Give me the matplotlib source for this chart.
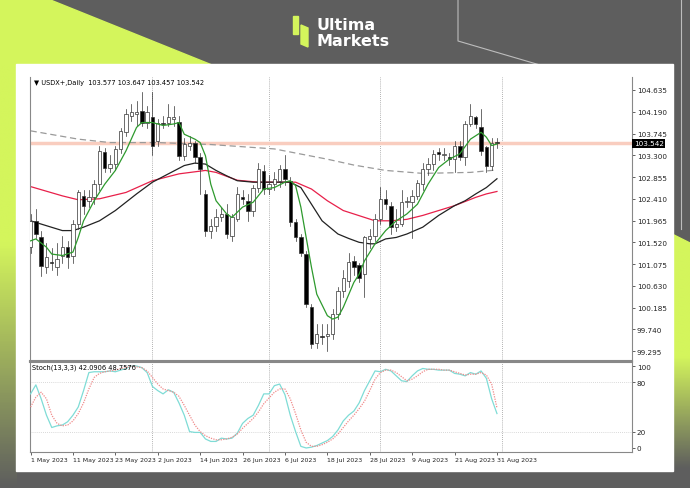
import matplotlib
matplotlib.use("Agg")
import matplotlib.pyplot as plt
import numpy as np
from matplotlib.patches import Rectangle, Polygon
from matplotlib.colors import LinearSegmentedColormap

# ---------------- data ----------------
opens = [101.42,101.96,101.62,101.02,101.12,101.02,101.25,101.42,101.24,101.89,
         102.47,102.37,102.44,102.71,103.36,103.05,103.12,103.43,103.77,104.11,
         104.14,104.21,103.97,104.08,103.60,103.96,103.97,104.04,103.99,103.29,
         103.50,103.56,103.26,102.51,101.76,101.86,102.03,102.10,101.65,101.99,
         102.44,102.37,102.17,102.64,102.98,102.61,102.71,102.78,103.02,102.78,
         101.93,101.62,101.28,100.19,99.47,99.61,99.61,99.64,100.05,100.53,
         100.73,101.14,101.06,100.87,101.58,101.65,101.99,102.40,102.27,101.83,
         101.90,102.34,102.34,102.47,102.71,103.02,103.12,103.36,103.30,103.27,
         103.22,103.50,103.26,103.94,104.09,103.87,103.46,103.09,103.577]
highs = [102.10,102.20,101.75,101.50,101.40,101.50,101.65,101.55,101.98,102.60,
         102.60,102.60,102.80,103.50,103.45,103.30,103.50,103.85,104.25,104.35,
         104.40,104.60,104.30,104.60,104.05,104.10,104.35,104.30,104.10,103.65,
         103.70,103.60,103.35,102.60,102.00,102.20,102.25,102.30,102.10,102.65,
         102.60,102.50,102.70,103.15,103.10,102.90,102.95,103.10,103.30,102.85,
         102.00,101.70,101.35,100.25,99.85,99.85,99.85,100.15,100.60,100.95,
         101.30,101.25,101.10,101.65,101.80,102.10,102.65,102.60,102.35,102.20,
         102.60,102.45,102.60,102.80,103.15,103.25,103.40,103.45,103.45,103.35,
         103.60,103.60,104.00,104.35,104.10,104.25,103.50,103.65,103.647]
lows = [101.30,101.60,100.84,100.90,100.95,100.85,101.10,101.00,101.10,101.80,
        102.10,102.25,102.30,102.60,102.95,102.95,103.00,103.35,103.70,104.00,
        103.90,103.90,103.85,103.30,103.50,103.85,103.90,103.90,103.20,103.20,
        103.40,103.15,102.50,101.65,101.60,101.75,101.95,101.60,101.55,101.95,
        102.30,101.95,102.05,102.55,102.50,102.50,102.60,102.65,102.70,101.85,
        101.55,101.25,100.20,99.35,99.35,99.45,99.30,99.55,99.95,100.40,
        100.60,100.85,100.70,100.40,101.40,101.55,101.90,102.20,101.70,101.75,
        101.85,102.25,101.60,102.40,102.60,102.90,103.00,103.20,103.20,103.10,
        102.95,103.20,103.10,103.90,103.85,103.30,102.95,103.00,103.457]
closes = [101.96,101.70,101.04,101.21,101.10,101.18,101.42,101.23,101.89,102.54,
          102.27,102.44,102.71,103.39,103.05,103.12,103.43,103.80,104.14,104.18,
          104.18,103.97,104.18,103.48,103.97,103.93,104.08,104.08,103.29,103.53,
          103.56,103.26,103.02,101.76,101.86,102.03,102.10,101.69,102.03,102.51,
          102.41,102.17,102.64,103.02,102.61,102.71,102.81,103.02,102.81,101.93,
          101.62,101.31,100.26,99.45,99.64,99.58,99.64,100.05,100.53,100.80,
          101.11,101.02,100.80,101.62,101.65,101.99,102.41,102.30,101.83,101.90,
          102.34,102.36,102.47,102.73,103.02,103.12,103.33,103.33,103.33,103.22,
          103.50,103.27,103.94,104.11,103.93,103.39,103.09,103.56,103.542]

green_x = [0,1,3,4,6,8,9,10,12,14,16,18,20,21,23,25,27,28,29,31,32,33,34,35,37,38,40,42,44,46,
           48,49,50,51,52,53,54,56,57,58,59,61,62,63,65,67,69,71,73,75,77,79,81,83,85,86,87,88]
green_y = [101.55,101.59,101.42,101.28,101.25,101.32,101.62,101.96,102.37,102.71,102.99,103.39,
           103.87,103.97,103.97,103.91,103.94,103.97,103.73,103.63,103.56,103.29,102.71,102.37,
           102.10,102.03,102.24,102.34,102.61,102.64,102.75,102.78,102.68,102.24,101.62,101.01,
           100.46,100.02,99.95,99.99,100.19,100.70,100.87,101.14,101.49,101.76,101.96,102.10,
           102.30,102.71,103.05,103.22,103.33,103.63,103.77,103.67,103.50,103.53]
black_x = [0,3,6,8,10,13,16,20,23,26,29,31,33,35,37,39,42,46,49,51,53,55,58,60,62,64,65,67,69,71,74,77,80,82,84,86,88]
black_y = [101.96,101.86,101.76,101.76,101.83,101.96,102.17,102.51,102.75,102.92,103.09,103.14,
           103.12,102.99,102.88,102.78,102.75,102.75,102.75,102.64,102.30,101.96,101.69,101.60,
           101.52,101.49,101.49,101.59,101.62,101.69,101.83,102.07,102.27,102.37,102.51,102.64,102.82]
red_x = [0,6,9,13,18,23,28,33,35,39,43,47,50,53,56,59,61,63,65,68,71,74,77,80,84,86,88]
red_y = [102.66,102.47,102.39,102.41,102.54,102.78,102.92,102.99,102.95,102.79,102.75,102.75,
         102.75,102.61,102.37,102.17,102.10,102.03,101.96,101.96,101.99,102.07,102.17,102.27,
         102.44,102.51,102.56]
grey_x = [0,9,15,24,34,46,56,61,67,74,83,88]
grey_y = [103.80,103.63,103.56,103.56,103.52,103.43,103.22,103.10,102.99,102.93,102.95,103.00]

stoch_k = [66,77,60,40,25,27,28,32,40,50,70,92,93,93,93,94,93,95,97,100,100,98,92,75,70,66,71,68,55,40,
           20,19,19,11,8,8,12,11,12,18,30,36,40,52,66,66,76,78,65,40,20,2,0,1,3,6,9,14,22,33,
           40,45,55,70,82,94,93,96,94,88,82,81,88,94,97,96,96,95,95,95,91,90,88,92,90,94,85,60,42]
stoch_d = [50,62,68,60,40,30,27,28,33,42,55,72,86,91,93,94,95,97,98,100,99,98,94,86,78,72,70,68,63,52,
           40,28,20,15,12,10,10,11,13,17,24,30,36,44,54,61,68,72,72,60,42,22,7,2,2,4,7,11,17,25,
           33,40,48,57,70,84,92,95,95,92,87,82,84,88,93,96,96,96,95,95,93,91,89,90,90,92,89,78,49]

date_idx = [0,8,16,24,32,40,48,56,64,72,80,88]
date_labels = ["1 May 2023","11 May 2023","23 May 2023","2 Jun 2023","14 Jun 2023","26 Jun 2023",
               "6 Jul 2023","18 Jul 2023","28 Jul 2023","9 Aug 2023","21 Aug 2023","31 Aug 2023"]
month_sep = [23,45,66,89]
price_ticks = [104.635,104.190,103.745,103.300,102.855,102.410,101.965,101.520,101.075,100.630,100.185,99.740,99.295]
last_price = 103.542

# ---------------- figure ----------------
W, H = 690, 489
fig = plt.figure(figsize=(W/100, H/100), dpi=100)
GRAY = "#5e5e5e"
LIME = "#d4f55c"

bg = fig.add_axes([0, 0, 1, 1])
bg.set_xlim(0, W); bg.set_ylim(H, 0); bg.axis("off")
bg.add_patch(Rectangle((0, 0), W, H, color=GRAY, zorder=0))
cm = LinearSegmentedColormap.from_list("g", [LIME, LIME, GRAY])
bg.imshow(np.linspace(0, 1, 200).reshape(-1, 1), extent=(0, 17, H, 0), cmap=cm, aspect="auto", zorder=1)
bg.add_patch(Polygon([(0, 0), (48, 0), (212, 66), (0, 66)], color=LIME, zorder=1))
bg.imshow(np.linspace(0, 1, 200).reshape(-1, 1), extent=(672, W, 470, 245), cmap=cm, aspect="auto", zorder=1)
bg.add_patch(Polygon([(672, 235), (W, 244), (W, 250), (672, 250)], color=LIME, zorder=1))
bg.plot([458, 458, 540], [0, 42, 66], color="#bdbdbd", lw=0.8, zorder=1)
bg.plot([681, 681], [0, 230], color="#bdbdbd", lw=0.8, zorder=1)
bg.add_patch(Rectangle((16, 65), 657, 407, color="white", zorder=2))
# logo
bg.add_patch(Rectangle((293, 17), 5, 18, color=LIME, zorder=3))
bg.add_patch(Polygon([(301, 26), (308, 29), (308, 48), (301, 45)], color=LIME, zorder=3))
bg.text(317, 25, "Ultima", color="white", fontsize=11.5, fontweight="bold", va="center", ha="left", zorder=3)
bg.text(317, 42, "Markets", color="white", fontsize=11.5, fontweight="bold", va="center", ha="left", zorder=3)

def px_axes(x0, y0, x1, y1):
    return fig.add_axes([x0/W, 1 - y1/H, (x1-x0)/W, (y1-y0)/H])

bar_px = 5.3
xl = (-0.2, (632 - 29.5)/bar_px - 0.2)

ax = px_axes(29.5, 78, 632, 362)
ax.set_facecolor("white")
ax.set_xlim(*xl)
ax.set_ylim(104.635 - (362-91)/48.9, 104.635 + 13/48.9)
ax.spines["top"].set_visible(False)
for s in ["left", "right", "bottom"]:
    ax.spines[s].set_color("#888888"); ax.spines[s].set_linewidth(0.8)
ax.spines["bottom"].set_linewidth(1.5)
ax.set_xticks([])
ax.yaxis.tick_right()
ax.set_yticks(price_ticks)
ax.set_yticklabels([f"{p:.3f}" for p in price_ticks], fontsize=5.2)
ax.tick_params(axis="y", length=2, width=0.5, pad=1.5, colors="#222222")

for m in month_sep:
    ax.axvline(m, color="#999999", lw=0.6, ls=(0, (1, 1.5)), zorder=1)
ax.axhline(last_price, color="#f9cdbf", lw=2.5, zorder=1)

ax.plot(grey_x, grey_y, color="#9a9a9a", lw=0.9, ls=(0, (5, 3)), zorder=2)
ax.plot(red_x, red_y, color="#e8204a", lw=0.9, zorder=2)
ax.plot(black_x, black_y, color="#222222", lw=0.9, zorder=2)

for i, (o, h, l, c) in enumerate(zip(opens, highs, lows, closes)):
    ax.plot([i, i], [l, h], color="#333333", lw=0.5, zorder=3)
    lo, hi = min(o, c), max(o, c)
    if hi - lo < 0.015:
        hi = lo + 0.015
    fc = "white" if c >= o else "black"
    ax.add_patch(Rectangle((i - 0.32, lo), 0.64, hi - lo, facecolor=fc, edgecolor="#333333", lw=0.5, zorder=4))
ax.plot(green_x, green_y, color="#2e9a2e", lw=0.9, zorder=5)

ax.text(0.6, 104.80, "\u25bc USDX+,Daily  103.577 103.647 103.457 103.542", fontsize=4.8, va="center", ha="left")
ylo, yhi = ax.get_ylim()
ax.text(1.003, (last_price - ylo) / (yhi - ylo), "103.542",
        transform=ax.transAxes, fontsize=5.2, color="white", va="center", ha="left",
        bbox=dict(boxstyle="square,pad=0.2", fc="black", ec="none"))

ax2 = px_axes(29.5, 363, 632, 453)
ax2.set_xlim(*xl)
ax2.set_ylim(-4.9, 104.9)
for s in ax2.spines.values():
    s.set_color("#888888"); s.set_linewidth(0.8)
ax2.spines["top"].set_linewidth(1.5)
ax2.yaxis.tick_right()
ax2.set_yticks([0, 20, 80, 100])
ax2.set_yticklabels(["0", "20", "80", "100"], fontsize=5.2)
ax2.tick_params(axis="y", length=2, width=0.5, pad=1.5, colors="#222222")
for m in month_sep:
    ax2.axvline(m, color="#999999", lw=0.6, ls=(0, (1, 1.5)), zorder=1)
for lv in [20, 80]:
    ax2.axhline(lv, color="#cccccc", lw=0.6, ls=(0, (1, 1.5)), zorder=1)
xs = np.arange(len(stoch_k))
ax2.plot(xs, stoch_k, color="#7fdcd6", lw=0.9, zorder=3)
ax2.plot(xs, stoch_d, color="#f08a8a", lw=0.9, ls=(0, (1, 1)), zorder=3)
ax2.text(0.3, 99, "Stoch(13,3,3) 42.0906 48.7576", fontsize=4.8, va="center", ha="left")
ax2.set_xticks(date_idx)
ax2.set_xticklabels(date_labels, fontsize=4.5, ha="left")
ax2.tick_params(axis="x", length=2, width=0.5, pad=1.5, colors="#222222")

fig.savefig("out.png", dpi=100)
